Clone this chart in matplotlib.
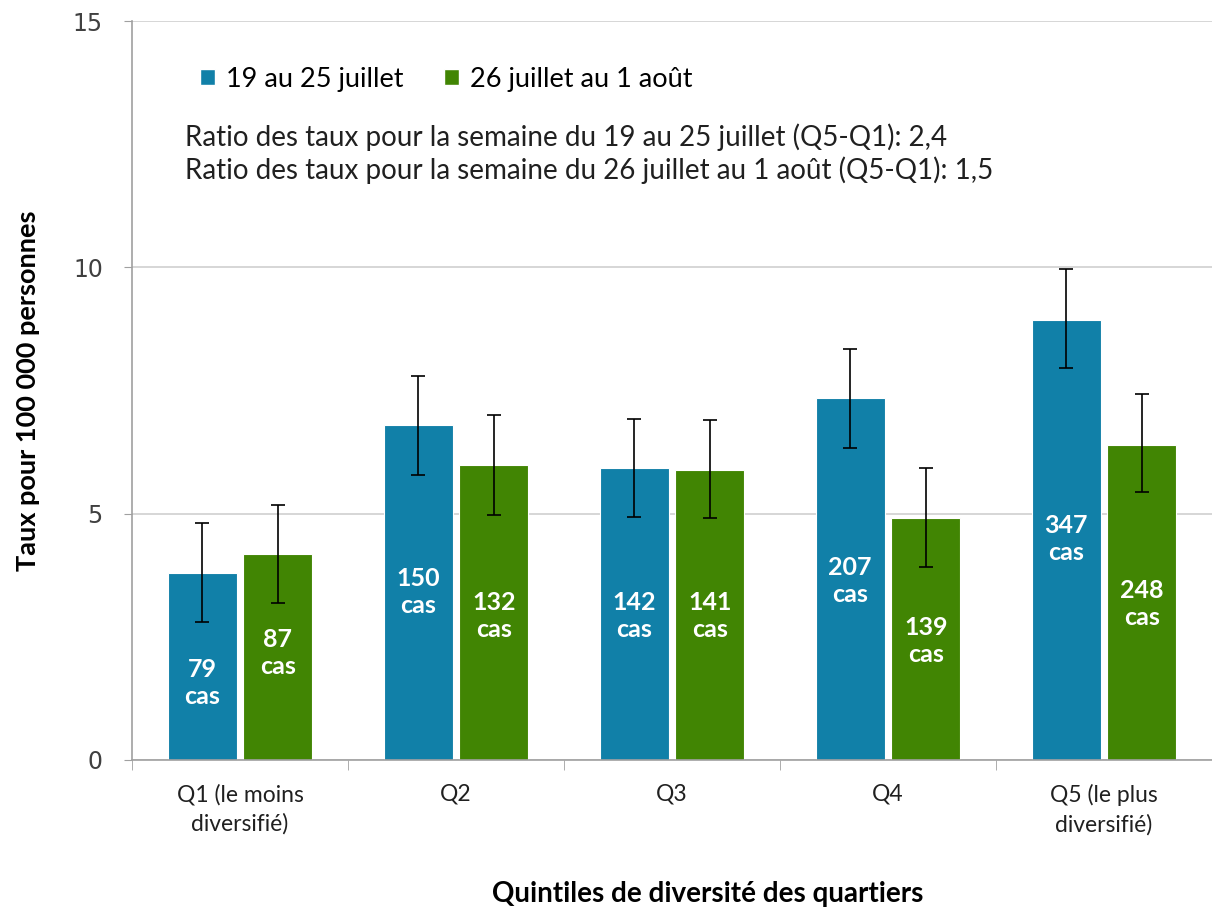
import numpy as np
import matplotlib
matplotlib.use('Agg')
import matplotlib.pyplot as plt
from matplotlib.patches import Patch

plt.rcParams['font.family'] = ['Lato', 'DejaVu Sans']

# Data
categories = ['Q1 (le moins\ndiversifié)', 'Q2', 'Q3', 'Q4', 'Q5 (le plus\ndiversifié)']
series_names = ['19 au 25 juillet', '26 juillet au 1 août']
rate_wk1 = [3.80, 6.79, 5.93, 7.34, 8.94]
low_wk1 = [2.80, 5.79, 4.94, 6.34, 7.95]
high_wk1 = [4.82, 7.80, 6.93, 8.35, 9.96]
rate_wk2 = [4.19, 5.98, 5.89, 4.92, 6.40]
low_wk2 = [3.19, 4.98, 4.92, 3.92, 5.43]
high_wk2 = [5.18, 7.01, 6.91, 5.93, 7.42]
cases_wk1 = [79, 150, 142, 207, 347]
cases_wk2 = [87, 132, 141, 139, 248]
ratio_lines = ['Ratio des taux pour la semaine du 19 au 25 juillet (Q5-Q1): 2,4',
               'Ratio des taux pour la semaine du 26 juillet au 1 août (Q5-Q1): 1,5']

# label heights inside the bars (layout only)
label_y1 = [1.57, 3.41, 2.93, 3.64, 4.49]
label_y2 = [2.17, 2.93, 2.93, 2.42, 3.17]

blue = '#1180A8'
green = '#418503'

fig = plt.figure(figsize=(12.12, 9.14), dpi=100)
ax = fig.add_axes([0.1089, 0.1685, 0.8911, 0.8085])

x = np.arange(len(categories))
w = 0.32
off = 0.175

err1 = [np.array(rate_wk1) - np.array(low_wk1), np.array(high_wk1) - np.array(rate_wk1)]
err2 = [np.array(rate_wk2) - np.array(low_wk2), np.array(high_wk2) - np.array(rate_wk2)]

ax.bar(x - off, rate_wk1, w, color=blue, edgecolor='white', linewidth=0.8, zorder=2)
ax.bar(x + off, rate_wk2, w, color=green, edgecolor='white', linewidth=0.8, zorder=2)
ax.errorbar(x - off, rate_wk1, yerr=err1, fmt='none', ecolor='black', elinewidth=1.2,
            capsize=5, capthick=1.2, zorder=3)
ax.errorbar(x + off, rate_wk2, yerr=err2, fmt='none', ecolor='black', elinewidth=1.2,
            capsize=5, capthick=1.2, zorder=3)

for i in range(len(categories)):
    ax.text(x[i] - off, label_y1[i], f'{cases_wk1[i]}\ncas', ha='center', va='center',
            color='white', fontsize=18, fontweight='bold', linespacing=1.2, zorder=4)
    ax.text(x[i] + off, label_y2[i], f'{cases_wk2[i]}\ncas', ha='center', va='center',
            color='white', fontsize=18, fontweight='bold', linespacing=1.2, zorder=4)

ax.set_xlim(-0.5, 4.5)
ax.set_ylim(0, 15)
ax.set_yticks([0, 5, 10, 15])
ax.set_yticklabels(['0', '5', '10', '15'], family='DejaVu Sans', fontsize=17, color='#404040')
ax.yaxis.grid(True, color='#D0D0D0', linewidth=1.2, zorder=0)
ax.set_axisbelow(True)

ax.set_xticks(x)
ax.set_xticklabels(categories, fontsize=16.5, color='#202020', linespacing=1.45)
ax.set_xticks(np.arange(-0.5, 4.6, 1.0), minor=True)
ax.tick_params(axis='x', which='major', length=0, pad=17)
ax.tick_params(axis='x', which='minor', length=7, color='#A0A0A0', direction='out')
ax.tick_params(axis='y', length=6, color='#A0A0A0', pad=15)

for s in ['top', 'right']:
    ax.spines[s].set_visible(False)
ax.spines['left'].set_color('#A0A0A0')
ax.spines['bottom'].set_color('#A0A0A0')
ax.spines['left'].set_linewidth(1.2)
ax.spines['bottom'].set_linewidth(1.2)

ax.set_ylabel('Taux pour 100 000 personnes', fontsize=19.5, fontweight='bold')
ax.set_xlabel('Quintiles de diversité des quartiers', fontsize=20, fontweight='bold')
ax.yaxis.set_label_coords(-0.096, 0.5)
ax.xaxis.set_label_coords(0.533, -0.181)
ax.xaxis.label.set_va('center')
ax.yaxis.label.set_va('center')

handles = [Patch(facecolor=blue, edgecolor='white'), Patch(facecolor=green, edgecolor='white')]
ax.legend(handles, series_names, loc='center left', bbox_to_anchor=(0.063, 0.921), ncol=2,
          frameon=False, fontsize=19.5, handlelength=0.55, handleheight=0.55,
          handletextpad=0.4, columnspacing=1.5, borderpad=0, borderaxespad=0)

ax.text(0.049, 0.843, ratio_lines[0], transform=ax.transAxes, fontsize=20, color='#202020', va='center')
ax.text(0.049, 0.798, ratio_lines[1], transform=ax.transAxes, fontsize=20, color='#202020', va='center')

fig.savefig('out.png', dpi=100)
